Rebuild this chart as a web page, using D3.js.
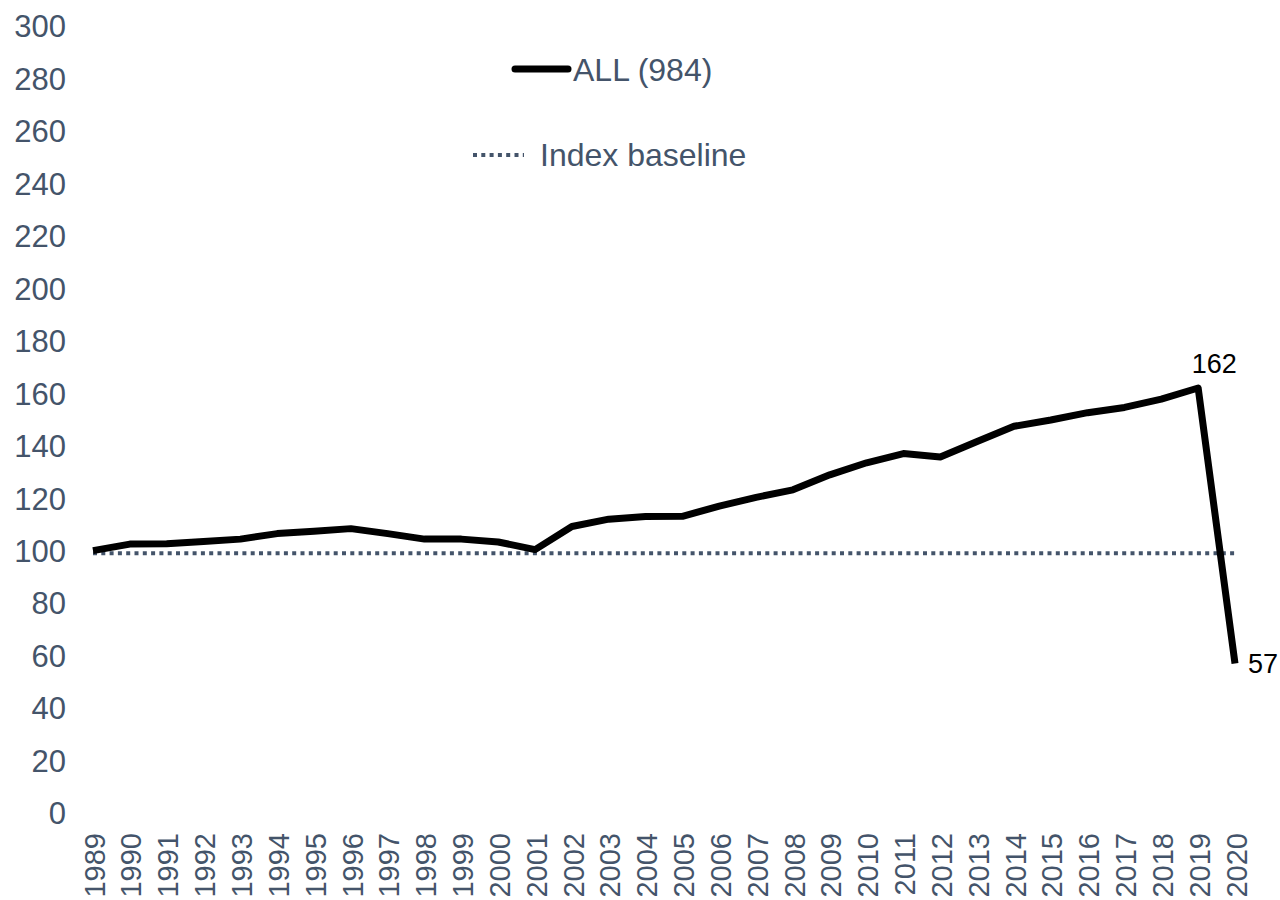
<!DOCTYPE html>
<html><head><meta charset="utf-8">
<script src="https://cdn.jsdelivr.net/npm/d3@7"></script>
<style>body{margin:0;background:#fff;}svg{display:block;font-family:"Liberation Sans",Arial,sans-serif;}</style>
</head><body>
<svg id="c" width="1280" height="900"></svg>
<script>
const years = [1989,1990,1991,1992,1993,1994,1995,1996,1997,1998,1999,2000,2001,2002,2003,2004,2005,2006,2007,2008,2009,2010,2011,2012,2013,2014,2015,2016,2017,2018,2019,2020];
const allValues = [100,102.5,102.6,103.5,104.4,106.5,107.4,108.4,106.5,104.4,104.4,103.3,100.4,109.2,112,113,113.1,117,120.3,123.2,128.9,133.5,137,135.7,141.6,147.4,149.8,152.6,154.6,157.8,162,57];
const baselineValue = 99;
const yTicks = [0,20,40,60,80,100,120,140,160,180,200,220,240,260,280,300];
const seriesLabel = "ALL (984)";
const baselineLabel = "Index baseline";

const svg = d3.select("#c");
const slate = "#44546A";
const font = "Liberation Sans, Arial, sans-serif";
const x = d3.scalePoint().domain(years).range([93, 1235]);
const y = d3.scaleLinear().domain([0,300]).range([813, 26]);

// y axis
const yAxis = svg.append("g").attr("transform","translate(66,0)")
  .call(d3.axisLeft(y).tickValues(yTicks).tickSize(0).tickPadding(0));
yAxis.select(".domain").remove();
yAxis.selectAll("text").attr("fill",slate).attr("font-size",31).attr("font-family",font).attr("dy","0.35em");

// x axis
const xAxis = svg.append("g").attr("transform","translate(1,833)")
  .call(d3.axisBottom(x).tickSize(0).tickPadding(0));
xAxis.select(".domain").remove();
xAxis.selectAll(".tick text").attr("fill",slate).attr("font-size",29).attr("font-family",font)
  .attr("transform","rotate(-90)").attr("text-anchor","end").attr("x",0).attr("y",0).attr("dy","0.35em");

// baseline
svg.append("line")
  .attr("x1",x(years[0])).attr("x2",x(years[years.length-1]))
  .attr("y1",y(baselineValue)).attr("y2",y(baselineValue))
  .attr("stroke",slate).attr("stroke-width",4).attr("stroke-dasharray","4,4.3");

// series line
const line = d3.line().x((d,i)=>x(years[i])).y(d=>y(d));
svg.append("path").datum(allValues).attr("d",line)
  .attr("fill","none").attr("stroke","#000").attr("stroke-width",7).attr("stroke-linejoin","round");

// data labels
const n = years.length;
svg.append("text").attr("x",x(years[n-2])+16).attr("y",y(allValues[n-2])-15).attr("text-anchor","middle")
  .attr("font-size",27).attr("font-family",font).attr("fill","#000").text(Math.round(allValues[n-2]));
svg.append("text").attr("x",x(years[n-1])+13).attr("y",y(allValues[n-1])+10)
  .attr("font-size",27).attr("font-family",font).attr("fill","#000").text(Math.round(allValues[n-1]));

// legend
svg.append("line").attr("x1",515).attr("x2",568).attr("y1",69).attr("y2",69)
  .attr("stroke","#000").attr("stroke-width",7).attr("stroke-linecap","round");
svg.append("text").attr("x",573).attr("y",81).attr("font-size",32).attr("font-family",font).attr("fill",slate).text(seriesLabel);
svg.append("line").attr("x1",473).attr("x2",524).attr("y1",155).attr("y2",155)
  .attr("stroke",slate).attr("stroke-width",4).attr("stroke-dasharray","4,4.3");
svg.append("text").attr("x",540).attr("y",166).attr("font-size",32).attr("font-family",font).attr("fill",slate).text(baselineLabel);
</script>
</body></html>
